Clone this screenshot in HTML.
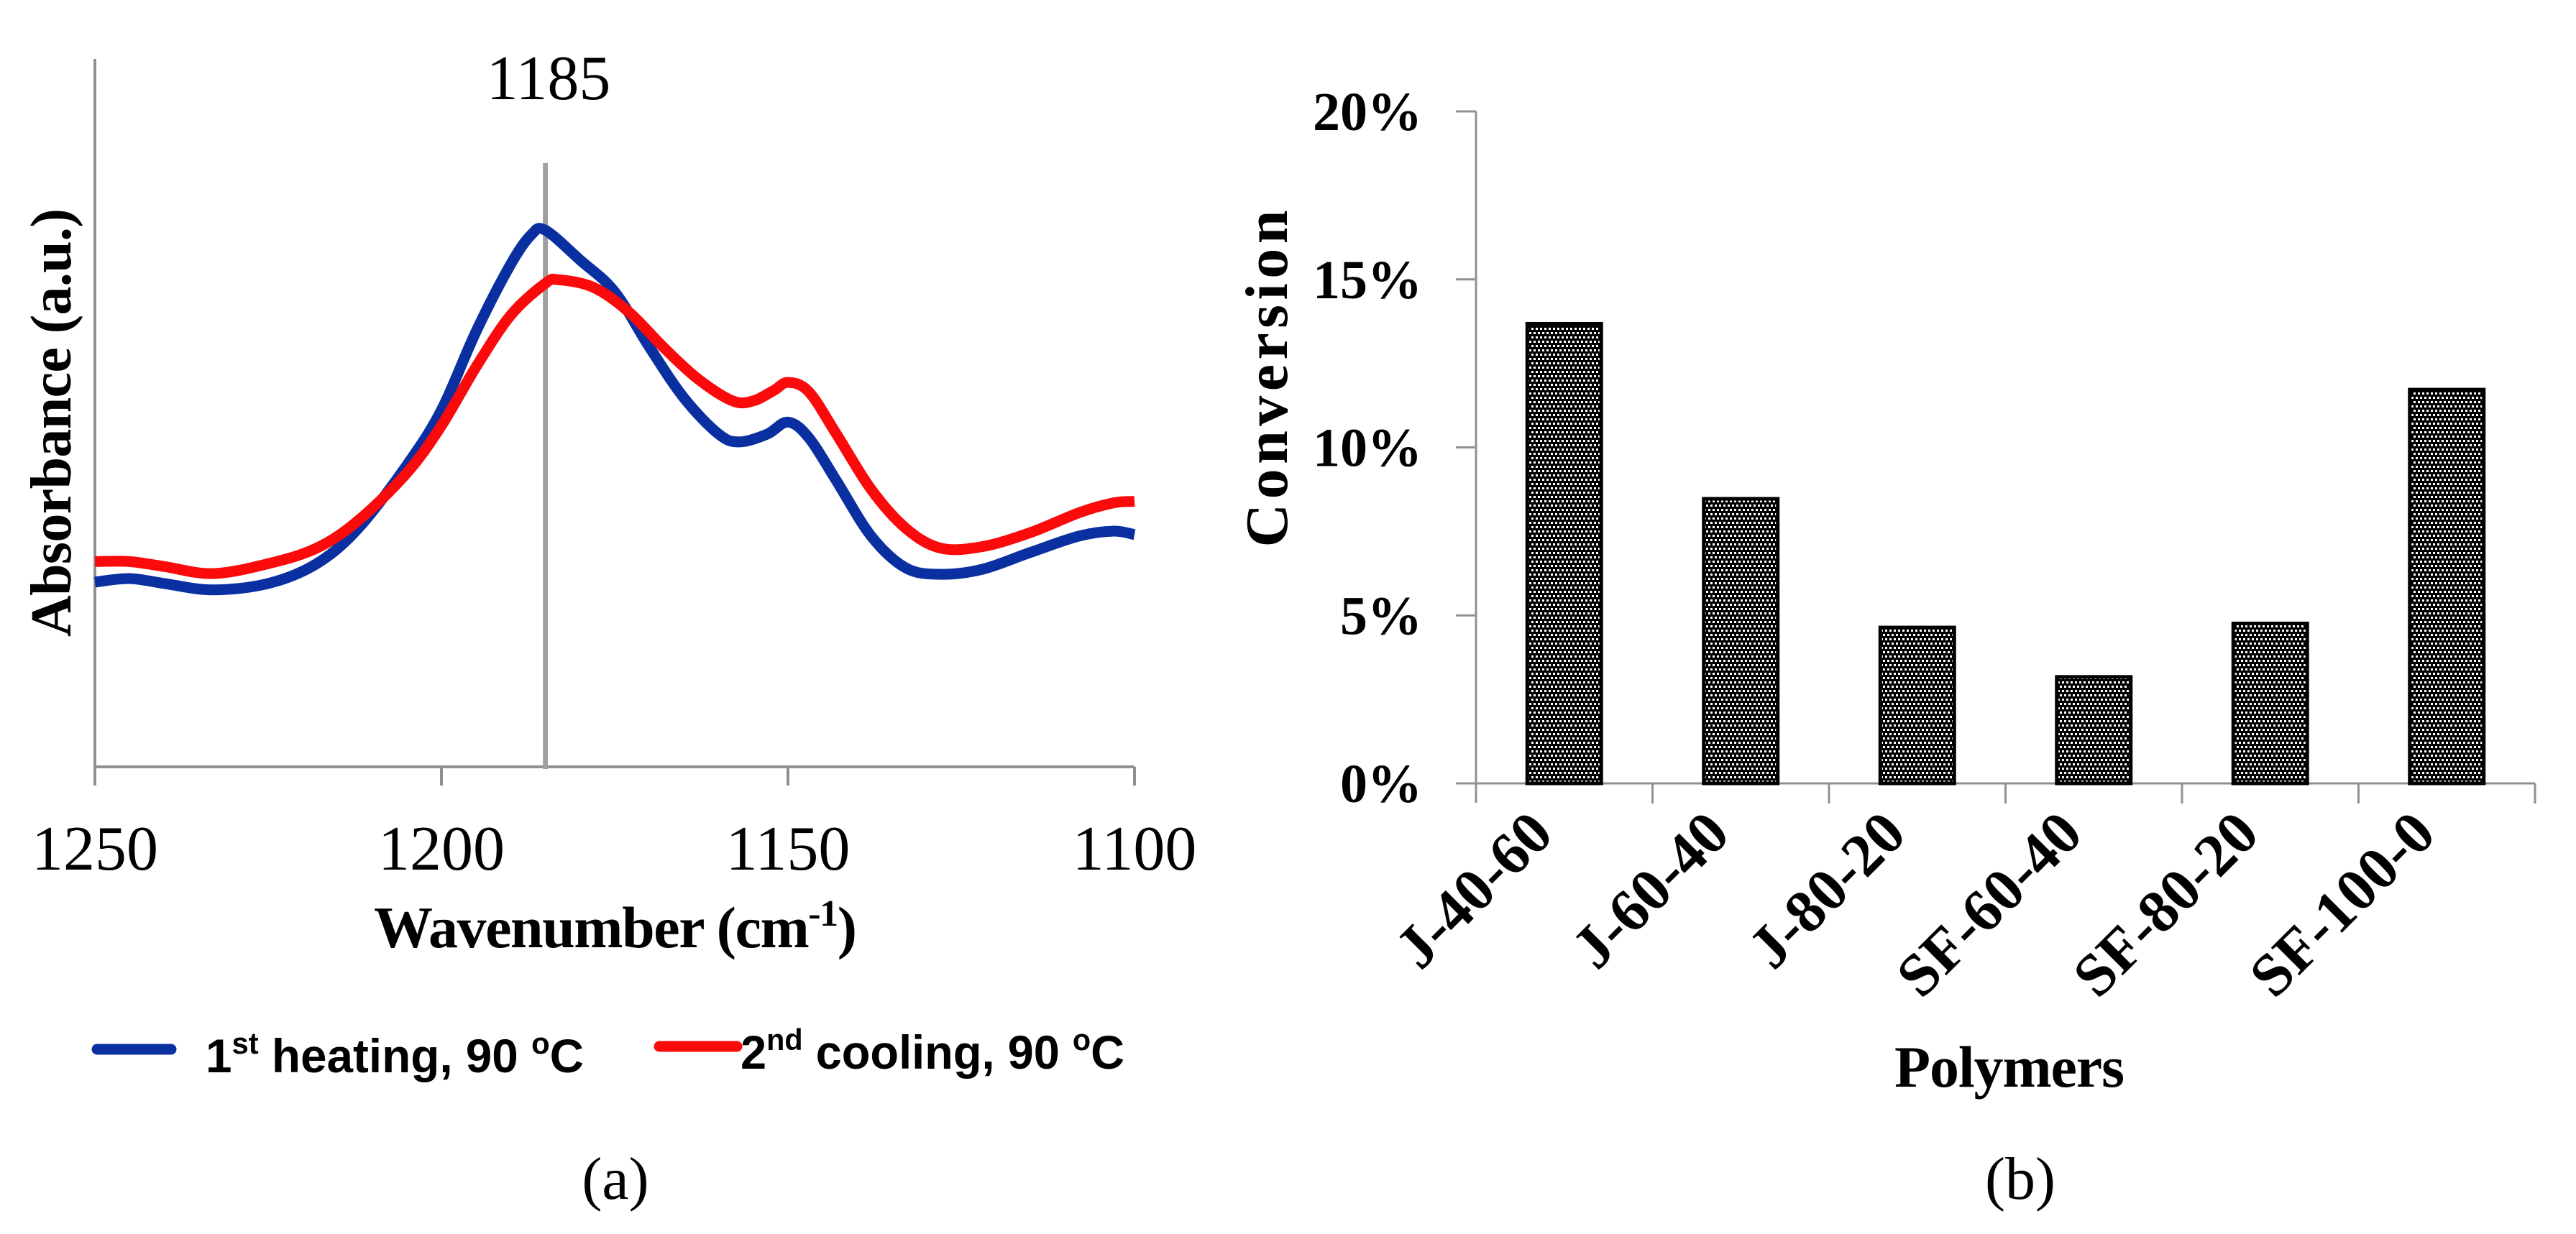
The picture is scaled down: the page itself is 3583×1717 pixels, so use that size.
<!DOCTYPE html>
<html><head><meta charset="utf-8"><style>
html,body{margin:0;padding:0;background:#fff}
svg{display:block}
</style></head><body>
<svg id="fig" width="3583" height="1717" viewBox="0 0 3583 1717" xmlns="http://www.w3.org/2000/svg">
<defs>
<pattern id="chk" width="12" height="12" patternUnits="userSpaceOnUse">
<rect width="12" height="12" fill="#000"/>
<rect x="0" y="0" width="3" height="3" fill="#fff"/>
<rect x="6" y="0" width="3" height="3" fill="#fff"/>
<rect x="3" y="6" width="3" height="3" fill="#fff"/>
<rect x="9" y="6" width="3" height="3" fill="#fff"/>
</pattern>
</defs>
<g id="chartA"></g>
<g id="chartB"></g>
</svg>
<script>
// ---- Chart (a) data ----
const waveHeat = [1250,1245,1240,1233,1225,1218,1212,1205,1200,1195,1190,1187,1185,1180,1175,1170,1165,1160,1157,1153,1150,1147,1143,1138,1133,1128,1122,1115,1108,1103,1100];
const absHeat = [26.1,26.6,25.9,25.0,25.9,28.7,33.7,42.6,50.4,61.5,71.0,75.2,75.8,71.6,67.1,59.3,52.1,47.0,45.9,47.0,48.7,46.5,40.4,32.6,28.1,27.2,27.9,30.3,32.6,33.3,32.8];
const waveCool = [1250,1245,1240,1233,1225,1218,1212,1205,1200,1195,1190,1185,1183,1178,1173,1168,1163,1158,1155,1152,1150,1147,1143,1138,1133,1128,1122,1115,1108,1103,1100];
const absCool = [29.0,29.0,28.3,27.3,28.7,30.9,34.8,41.5,48.2,56.5,63.8,68.3,68.8,67.7,64.3,59.3,54.8,51.7,51.7,53.2,54.3,53.0,47.0,39.2,33.7,30.9,31.1,33.1,35.9,37.3,37.5];
const xTicksA = [1250,1200,1150,1100];
const markerWave = 1185;
// ---- Chart (b) data ----
const polymers = ["J-40-60","J-60-40","J-80-20","SF-60-40","SF-80-20","SF-100-0"];
const conversion = [13.68,8.47,4.64,3.17,4.76,11.72];
const yTicksB = [0,5,10,15,20];

const NS="http://www.w3.org/2000/svg";
function mk(parent,tag,attrs,text){const e=document.createElementNS(NS,tag);for(const k in attrs)e.setAttribute(k,attrs[k]);if(text!==undefined)e.textContent=text;parent.appendChild(e);return e;}

// ===== Chart A =====
const A=document.getElementById('chartA');
const ax0=132, ax1=1578, ay0=1067, ay1=82;
const xA=w=>ax0+(1250-w)/150*(ax1-ax0);
const yA=v=>ay0-v/100*(ay0-ay1);
function smooth(xs,ys){let p=xs.map((x,i)=>[xA(x),yA(ys[i])]);let d=`M${p[0][0]},${p[0][1]}`;
for(let i=0;i<p.length-1;i++){const p0=p[Math.max(0,i-1)],p1=p[i],p2=p[i+1],p3=p[Math.min(p.length-1,i+2)];
const c1=[p1[0]+(p2[0]-p0[0])/6,p1[1]+(p2[1]-p0[1])/6],c2=[p2[0]-(p3[0]-p1[0])/6,p2[1]-(p3[1]-p1[1])/6];
d+=` C${c1[0]},${c1[1]} ${c2[0]},${c2[1]} ${p2[0]},${p2[1]}`;}return d;}
let e;
e=mk(A,'line',{x1:ax0,y1:ay1,x2:ax0,y2:ay0,stroke:'#909090','stroke-width':4});

e=mk(A,'line',{x1:ax0,y1:ay0,x2:ax1,y2:ay0,stroke:'#909090','stroke-width':4});

xTicksA.forEach(t=>{
 e=mk(A,'line',{x1:xA(t),y1:ay0,x2:xA(t),y2:ay0+26,stroke:'#909090','stroke-width':4});
 
 e=mk(A,'text',{x:xA(t),y:1210,'text-anchor':'middle','font-family':'Liberation Serif, serif','font-size':88},String(t));
 
});
e=mk(A,'line',{x1:xA(markerWave),y1:227,x2:xA(markerWave),y2:ay0+3,stroke:'#a0a0a0','stroke-width':7});

e=mk(A,'text',{x:763,y:138,'text-anchor':'middle','font-family':'Liberation Serif, serif','font-size':88},String(markerWave));

e=mk(A,'path',{d:smooth(waveHeat,absHeat),fill:'none',stroke:'#0a2fa0','stroke-width':15,'stroke-linejoin':'round'});

e=mk(A,'path',{d:smooth(waveCool,absCool),fill:'none',stroke:'#fa0a0a','stroke-width':15,'stroke-linejoin':'round'});

e=mk(A,'text',{x:856,y:1318,'text-anchor':'middle','font-family':'Liberation Serif, serif','font-size':82,'font-weight':'bold',textLength:672});

e.innerHTML='Wavenumber (cm<tspan dy="-30" font-size="52">-1</tspan><tspan dy="30">)</tspan>';
e=mk(A,'text',{x:0,y:0,transform:'translate(98,588) rotate(-90)','text-anchor':'middle','font-family':'Liberation Serif, serif','font-size':80,'font-weight':'bold',textLength:596},'Absorbance (a.u.)');

// legend
e=mk(A,'line',{x1:135,y1:1460,x2:238,y2:1460,stroke:'#0a2fa0','stroke-width':15,'stroke-linecap':'round'});

e=mk(A,'text',{x:286,y:1492,'font-family':'Liberation Sans, sans-serif','font-size':66,'font-weight':'bold',textLength:526,lengthAdjust:'spacingAndGlyphs'});

e.innerHTML='1<tspan dy="-26" font-size="42">st</tspan><tspan dy="26"> heating, 90 </tspan><tspan dy="-26" font-size="42">o</tspan><tspan dy="26">C</tspan>';
e=mk(A,'line',{x1:917,y1:1456,x2:1025,y2:1456,stroke:'#fa0a0a','stroke-width':15,'stroke-linecap':'round'});

e=mk(A,'text',{x:1030,y:1487,'font-family':'Liberation Sans, sans-serif','font-size':66,'font-weight':'bold',textLength:534,lengthAdjust:'spacingAndGlyphs'});

e.innerHTML='2<tspan dy="-26" font-size="42">nd</tspan><tspan dy="26"> cooling, 90 </tspan><tspan dy="-26" font-size="42">o</tspan><tspan dy="26">C</tspan>';
e=mk(A,'text',{x:856,y:1668,'text-anchor':'middle','font-family':'Liberation Serif, serif','font-size':84},'(a)');


// ===== Chart B =====
const B=document.getElementById('chartB');
const bx0=2053, bx1=3526, by0=1090, by1=155;
const cw=(bx1-bx0)/polymers.length;
const yB=v=>by0-v/20*(by0-by1);
e=mk(B,'line',{x1:bx0,y1:by1,x2:bx0,y2:by0+27,stroke:'#909090','stroke-width':3});

e=mk(B,'line',{x1:bx0-28,y1:by0,x2:bx1,y2:by0,stroke:'#909090','stroke-width':3});

yTicksB.forEach(t=>{
 e=mk(B,'line',{x1:bx0-28,y1:yB(t),x2:bx0,y2:yB(t),stroke:'#909090','stroke-width':3});
 
 e=mk(B,'text',{x:1978,y:yB(t)+26,'text-anchor':'end','font-family':'Liberation Serif, serif','font-size':76,'font-weight':'bold'},t+'%');
 
});
for(let i=1;i<=polymers.length;i++){
 e=mk(B,'line',{x1:bx0+i*cw,y1:by0,x2:bx0+i*cw,y2:by0+28,stroke:'#909090','stroke-width':3});
 
}
polymers.forEach((p,i)=>{
 const cx=bx0+(i+0.5)*cw, bw=103;
 e=mk(B,'rect',{x:cx-bw/2,y:yB(conversion[i]),width:bw,height:by0-yB(conversion[i]),fill:'url(#chk)',stroke:'#000','stroke-width':5});
 
 e=mk(B,'text',{x:0,y:0,transform:`translate(${cx-12},${by0+74}) rotate(-45)`,'text-anchor':'end','font-family':'Liberation Serif, serif','font-size':84,'font-weight':'bold'},p);
 
});
e=mk(B,'text',{x:0,y:0,transform:'translate(1790,527) rotate(-90)','text-anchor':'middle','font-family':'Liberation Serif, serif','font-size':84,'font-weight':'bold',textLength:469},'Conversion');

e=mk(B,'text',{x:2795,y:1512,'text-anchor':'middle','font-family':'Liberation Serif, serif','font-size':82,'font-weight':'bold',textLength:320},'Polymers');

e=mk(B,'text',{x:2810,y:1668,'text-anchor':'middle','font-family':'Liberation Serif, serif','font-size':84},'(b)');

</script>
</body></html>
